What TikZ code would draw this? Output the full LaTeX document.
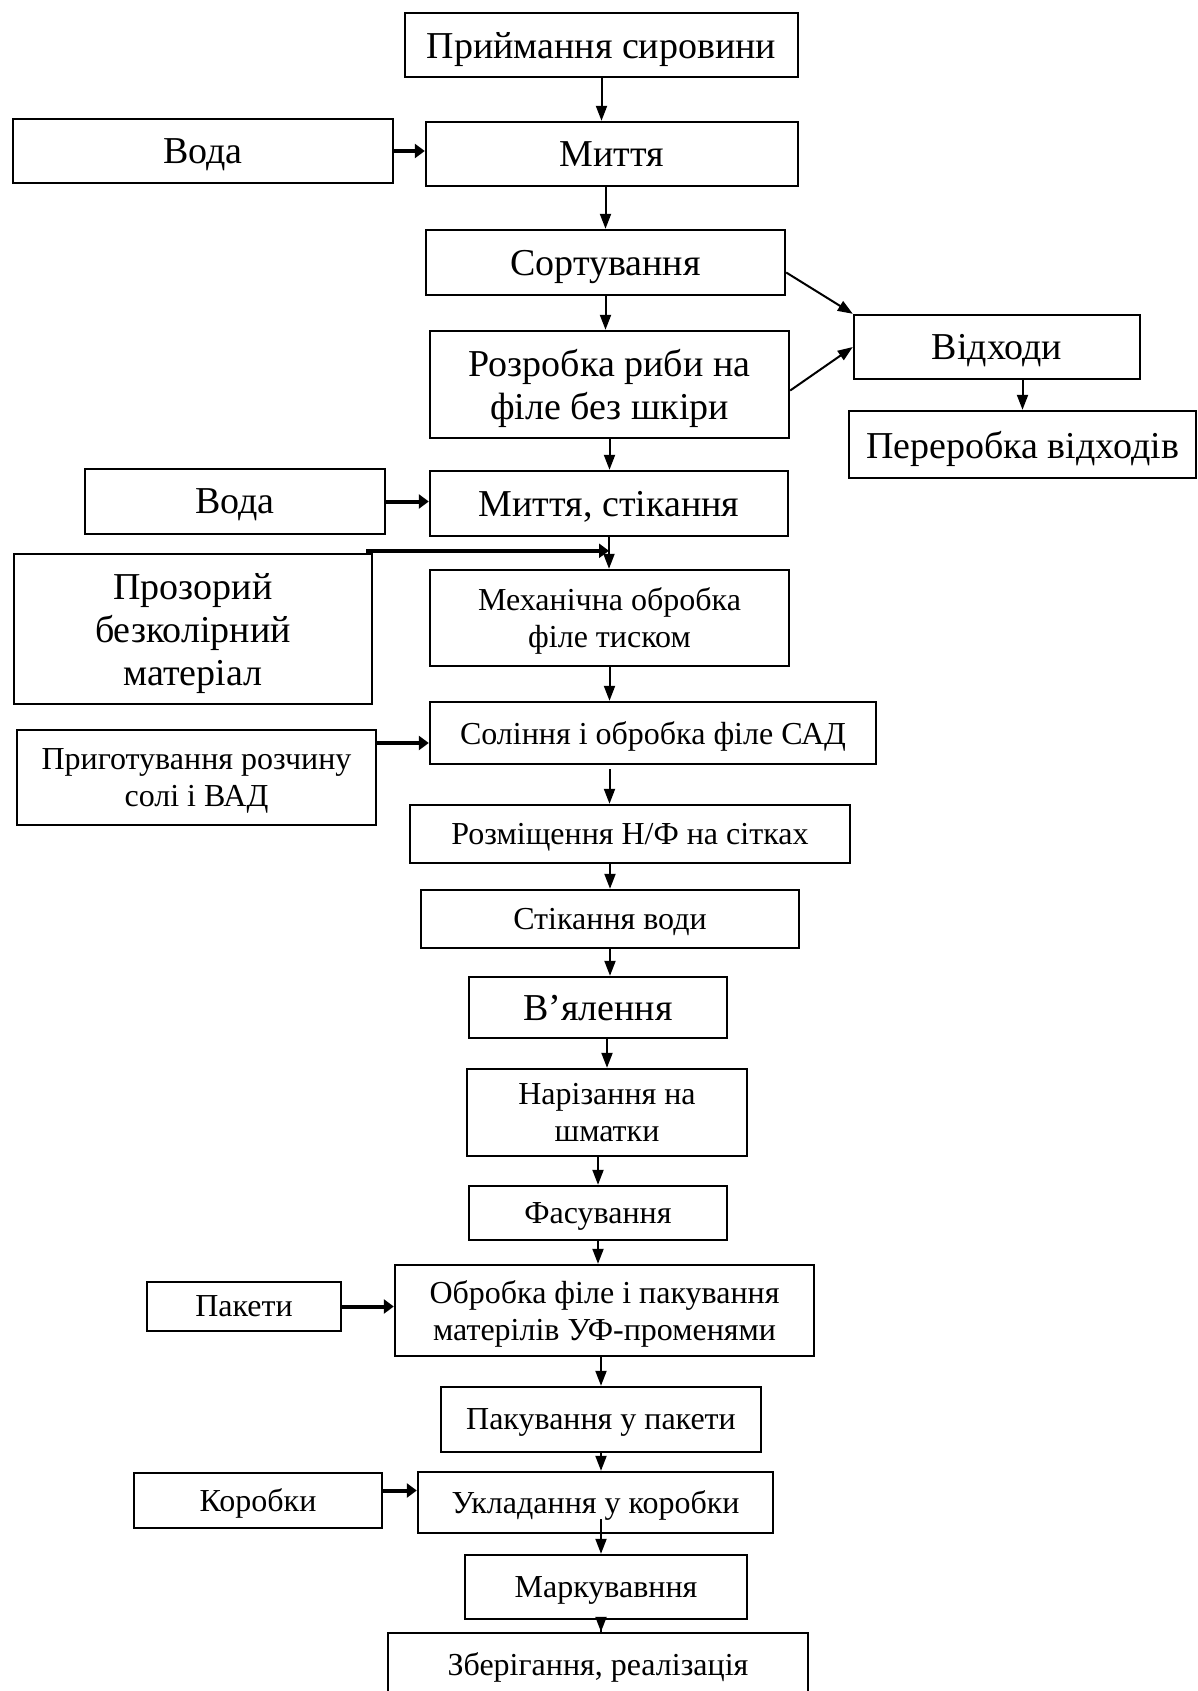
\documentclass[tikz,border=0pt]{standalone}
\usepackage{fontspec}
\setmainfont{Liberation Serif}
\usetikzlibrary{arrows.meta}

\begin{document}
\begin{tikzpicture}[x=1pt, y=-1pt,
            block/.style={draw, line width=2.4pt, align=center, inner sep=0pt, text depth=0pt},
            dims/.style 2 args={minimum width=#1pt, minimum height=#2pt},
            bigtxt/.style={font=\fontsize{38}{43}\selectfont},
            midtxt/.style={font=\fontsize{32}{37}\selectfont},
            smalltxt/.style={font=\fontsize{32}{37}\selectfont},
            flow/.style={-{Triangle[length=15pt,width=11pt]}, line width=2pt},
            feed/.style={-{Triangle[length=10pt,width=14pt]}, line width=4pt}
        ]
            \useasboundingbox (0,0) rectangle (1197,1691);

            % main line
            \node[block, bigtxt, dims={393}{64}] (recv) at (601.5,45) {Приймання сировини};
            \node[block, bigtxt, dims={372}{64}] (wash) at (612,154) {Миття};
            \node[block, bigtxt, dims={359}{65}] (sort) at (605.5,262.5) {Сортування};
            \node[block, bigtxt, dims={359}{107}] (cut) at (609.5,384.5) {Розробка риби на\\філе без шкіри};
            \node[block, bigtxt, dims={358}{65}] (wash2) at (609,503.5) {Миття, стікання};
            \node[block, midtxt, dims={359}{96}] (press) at (609.5,618) {Механічна обробка\\філе тиском};
            \node[block, midtxt, dims={446}{62}] (salt) at (653,733) {Соління і обробка філе САД};
            \node[block, midtxt, dims={440}{58}] (place) at (630,834) {Розміщення Н/Ф на сітках};
            \node[block, smalltxt, dims={378}{58}] (drain) at (610,919) {Стікання води};
            \node[block, bigtxt, dims={258}{61}] (dry) at (598,1007.5) {В’ялення};
            \node[block, smalltxt, dims={280}{87}] (slice) at (607,1112.5) {Нарізання на\\шматки};
            \node[block, smalltxt, dims={258}{54}] (pack) at (598,1213) {Фасування};
            \node[block, smalltxt, dims={419}{91}] (uv) at (604.5,1310.5) {Обробка філе і пакування\\матерілів УФ-променями};
            \node[block, smalltxt, dims={320}{65}] (bagging) at (601,1419.5) {Пакування у пакети};
            \node[block, smalltxt, dims={355}{61}] (boxing) at (595.5,1502.5) {Укладання у коробки};
            \node[block, smalltxt, dims={282}{64}] (marking) at (606,1587) {Маркувавння};
            \node[block, smalltxt, dims={420}{62}] (store) at (598,1664) {Зберігання, реалізація};

            % side boxes
            \node[block, bigtxt, dims={380}{64}] (water) at (203,151) {Вода};
            \node[block, bigtxt, dims={286}{64}] (waste) at (997,347) {Відходи};
            \node[block, bigtxt, dims={347}{67}] (recycle) at (1022.5,444.5) {Переробка відходів};
            \node[block, bigtxt, dims={300}{65}] (water2) at (235,501.5) {Вода};
            \node[block, bigtxt, dims={358}{150}] (film) at (193,629) {Прозорий\\безколірний\\матеріал};
            \node[block, midtxt, dims={359}{95}] (brine) at (196.5,777.5) {Приготування розчину\\солі і ВАД};
            \node[block, smalltxt, dims={194}{49}] (packets) at (244,1306.5) {Пакети};
            \node[block, smalltxt, dims={248}{55}] (cartons) at (258,1500.5) {Коробки};

            \draw[flow] (recv.south) -- (recv.south |- wash.north);
            \draw[flow] (wash.south -| sort.north) -- (sort.north);
            \draw[flow] (sort.south) -- (sort.south |- cut.north);
            \draw[flow] (cut.south) -- (cut.south |- wash2.north);
            \draw[flow] (wash2.south) -- (wash2.south |- press.north);
            \draw[flow] (press.south) -- (press.south |- salt.north);
            \draw[flow] ([yshift=-4pt]salt.south -| press.south) -- (press.south |- place.north);
            \draw[flow] (place.south -| drain.north) -- (drain.north);
            \draw[flow] (drain.south) -- (drain.south |- dry.north);
            \draw[flow] (dry.south -| slice.north) -- (slice.north);
            \draw[flow] (slice.south -| pack.north) -- (pack.north);
            \draw[flow] (pack.south) -- (pack.south |- uv.north);
            \draw[flow] (uv.south -| bagging.north) -- (bagging.north);
            \draw[flow] (bagging.south) -- (bagging.south |- boxing.north);
            \draw[flow, shorten <=-15pt] (boxing.south -| bagging.south) -- (bagging.south |- marking.north);
            \draw[flow, shorten <=-12pt] (marking.south -| bagging.south) -- (bagging.south |- store.north);

            % waste
            \draw[flow] ([yshift=-10pt]sort.east) -- (waste.north west);
            \draw[flow] ([yshift=-6pt]cut.east) -- (waste.west);
            \draw[flow] (waste.south -| recycle.north) -- (recycle.north);

            % inputs
            \draw[feed] (water.east) -- (water.east -| wash.west);
            \draw[feed] (water2.east) -- (water2.east -| wash2.west);
            \draw[feed] ([xshift=-7pt,yshift=2pt]film.north east) -- ([yshift=2pt]film.north east -| wash2.south);
            \draw[feed] ([yshift=-10pt]salt.west -| brine.east) -- ([yshift=-10pt]salt.west);
            \draw[feed] (packets.east) -- (packets.east -| uv.west);
            \draw[feed] ([yshift=10pt]cartons.east) -- ([yshift=10pt]cartons.east -| boxing.west);

        \end{tikzpicture}
\end{document}
